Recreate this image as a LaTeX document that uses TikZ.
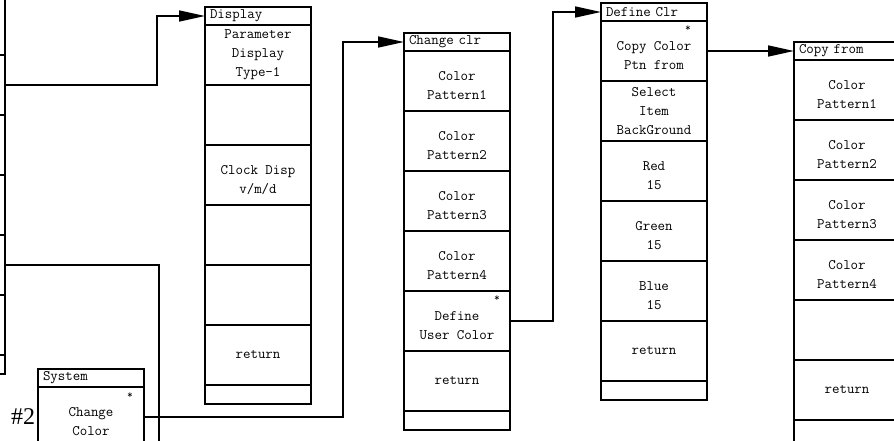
\documentclass[tikz,border=0pt]{standalone}
\usepackage{fontspec}
\newfontfamily\menufont{Latin Modern Mono}
\newfontfamily\tagfont{Liberation Serif}
\usetikzlibrary{arrows.meta, positioning}

\begin{document}
\begin{tikzpicture}[
    x=1pt, y=-1pt, >={Triangle[length=26pt, width=11pt]},
    cell/.style={draw, line width=1.1pt, rectangle, minimum width=106pt,
                 minimum height=60pt, inner sep=0pt, outer sep=0pt,
                 align=center, font=\menufont\fontsize{14.5}{19}\selectfont},
    ttl/.style={cell, minimum height=18pt, text width=96pt, align=left},
    foot/.style={cell, minimum height=19pt},
    link/.style={line width=1.6pt},
    asterisk/.style={font=\menufont\fontsize{11}{11}\selectfont, inner sep=0pt}
  ]
  \useasboundingbox (0,0) rectangle (894,440);
  \clip (0,0) rectangle (894,440);

  % Menu cut off on the left
  \node[cell, anchor=north east] (l1) at (5,-5) {};
  \node[cell, below=0pt of l1] (l2) {};
  \node[cell, below=0pt of l2] (l3) {};
  \node[cell, below=0pt of l3] (l4) {};
  \node[cell, below=0pt of l4] (l5) {};
  \node[cell, below=0pt of l5] (l6) {};
  \node[foot, below=0pt of l6] (l7) {};

  % System
  \node[ttl, anchor=north west] (st) at (38,369) {System};
  \node[cell, below=0pt of st] (s1) {\mbox{}\\Change\\Color};
  \node[asterisk] at ([shift={(-14,9)}]s1.north east) {*};
  \node[font=\tagfont\fontsize{24}{24}\selectfont, inner sep=0pt] (tag) at (23,417) {\#2};

  % Display
  \node[ttl, anchor=north west] (dt) at (205,7) {Display};
  \node[cell, below=0pt of dt] (d1) {Parameter\\Display\\Type-1};
  \node[cell, below=0pt of d1] (d2) {};
  \node[cell, below=0pt of d2] (d3) {\mbox{}\\Clock Disp\\v/m/d};
  \node[cell, below=0pt of d3] (d4) {};
  \node[cell, below=0pt of d4] (d5) {};
  \node[cell, below=0pt of d5] (d6) {return};
  \node[foot, below=0pt of d6] (d7) {};

  % Change clr
  \node[ttl, anchor=north west] (ct) at (404,33) {Change clr};
  \node[cell, below=0pt of ct] (c1) {\mbox{}\\Color\\Pattern1};
  \node[cell, below=0pt of c1] (c2) {\mbox{}\\Color\\Pattern2};
  \node[cell, below=0pt of c2] (c3) {\mbox{}\\Color\\Pattern3};
  \node[cell, below=0pt of c3] (c4) {\mbox{}\\Color\\Pattern4};
  \node[cell, below=0pt of c4] (c5) {\mbox{}\\Define\\User Color};
  \node[asterisk] at ([shift={(-13,8)}]c5.north east) {*};
  \node[cell, below=0pt of c5] (c6) {return};
  \node[foot, below=0pt of c6] (c7) {};

  % Define Clr
  \node[ttl, anchor=north west] (et) at (601,3) {Define Clr};
  \node[cell, below=0pt of et] (e1) {\mbox{}\\Copy Color\\Ptn from};
  \node[asterisk] at ([shift={(-19,8)}]e1.north east) {*};
  \node[cell, below=0pt of e1] (e2) {Select\\Item\\BackGround};
  \node[cell, below=0pt of e2] (e3) {\mbox{}\\Red\\15};
  \node[cell, below=0pt of e3] (e4) {\mbox{}\\Green\\15};
  \node[cell, below=0pt of e4] (e5) {\mbox{}\\Blue\\15};
  \node[cell, below=0pt of e5] (e6) {return};
  \node[foot, below=0pt of e6] (e7) {};

  % Copy from
  \node[ttl, anchor=north west] (ft) at (794,42) {Copy from};
  \node[cell, below=0pt of ft] (f1) {\mbox{}\\Color\\Pattern1};
  \node[cell, below=0pt of f1] (f2) {\mbox{}\\Color\\Pattern2};
  \node[cell, below=0pt of f2] (f3) {\mbox{}\\Color\\Pattern3};
  \node[cell, below=0pt of f3] (f4) {\mbox{}\\Color\\Pattern4};
  \node[cell, below=0pt of f4] (f5) {};
  \node[cell, below=0pt of f5] (f6) {return};
  \node[foot, minimum height=30pt, below=0pt of f6] (f7) {};

  % Links
  \coordinate (drop) at (159,450);
  \draw[link, ->] (l2.east) -- ++(152,0) |- (dt.west);
  \draw[link] (l5.east) -| (drop);
  \draw[link, ->] (s1.east) -- ++(199,0) |- (ct.west);
  \draw[link, ->] (c5.east) -- ++(43,0) |- (et.west);
  \draw[link, ->] (e1.east) -- (e1.east -| ft.west);
\end{tikzpicture}
\end{document}
